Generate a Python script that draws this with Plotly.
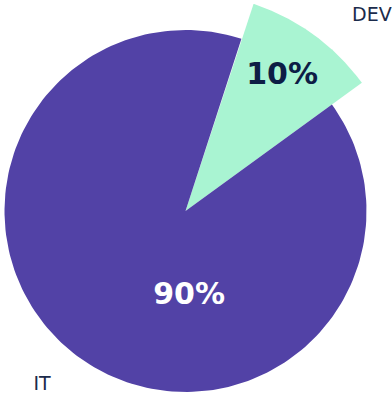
import numpy as np
import plotly.graph_objects as go

# ---- data ----
categories = ["DEV", "IT"]
shares = [10, 90]
pct_labels = [f"{s}%" for s in shares]

# ---- style ----
slice_colors = ["#A9F4D2", "#5242A6"]
slice_radius = [218, 181]            # px; DEV slice is drawn larger
pct_colors = ["#0D1D45", "#FFFFFF"]
start_angle = 18                      # degrees clockwise from 12 o'clock
pct_pos_r = [165.9, 85.1]
pct_pos_theta = [35.6, 177.6]
name_pos_r = [269.8, 225.5]
name_pos_theta = [43.7, 219.5]
center_px = (185.5, 211)
W, H = 392, 394

widths = np.array(shares) * 3.6
starts = start_angle + np.concatenate([[0], np.cumsum(widths)[:-1]])


def polar_xy(r, theta_deg):
    t = np.radians(np.asarray(theta_deg, dtype=float))
    return np.asarray(r) * np.sin(t), np.asarray(r) * np.cos(t)


fig = go.Figure()
for cat, s0, w, rad, col in zip(categories, starts, widths, slice_radius, slice_colors):
    th = np.linspace(s0, s0 + w, 200)
    ax, ay = polar_xy(rad, th)
    xs = np.concatenate([[0], ax, [0]])
    ys = np.concatenate([[0], ay, [0]])
    fig.add_trace(go.Scatter(
        x=xs, y=ys, mode="lines", fill="toself", fillcolor=col,
        line=dict(width=0, color=col), hoverinfo="skip", showlegend=False,
        name=cat,
    ))

px_, py_ = polar_xy(pct_pos_r, pct_pos_theta)
fig.add_trace(go.Scatter(
    x=px_, y=py_, mode="text", text=pct_labels, textposition="middle center",
    textfont=dict(family="DejaVu Sans", size=30, weight=700, color=pct_colors),
    cliponaxis=False, hoverinfo="skip", showlegend=False,
))
nx_, ny_ = polar_xy(name_pos_r, name_pos_theta)
fig.add_trace(go.Scatter(
    x=nx_, y=ny_, mode="text", text=categories, textposition="middle center",
    textfont=dict(family="DejaVu Sans", size=19, color="#1B2B4B"),
    cliponaxis=False, hoverinfo="skip", showlegend=False,
))

cx, cy = center_px
fig.update_layout(
    width=W, height=H,
    margin=dict(l=0, r=0, t=0, b=0),
    paper_bgcolor="white", plot_bgcolor="white",
    xaxis=dict(range=[-cx, W - cx], visible=False, fixedrange=True),
    yaxis=dict(range=[-(H - cy), cy], visible=False, fixedrange=True),
)

fig.write_html("out.html")
